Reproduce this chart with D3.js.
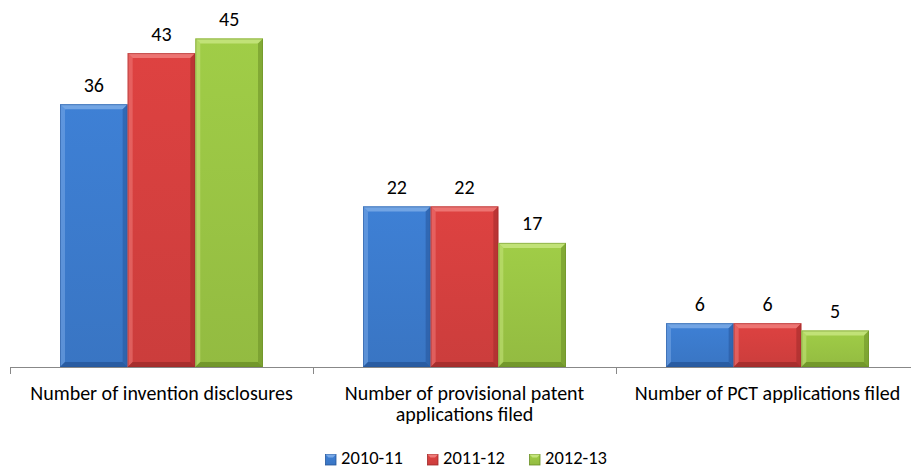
<!DOCTYPE html>
<html><head><meta charset="utf-8">
<script src="https://cdn.jsdelivr.net/npm/d3@7"></script>
<style>body{margin:0;background:#fff;}svg{display:block;font-family:Carlito,Calibri,"Open Sans",sans-serif;}</style>
</head><body>
<svg id="c" width="911" height="468"></svg>
<script>
const categories = [["Number of invention disclosures"], ["Number of provisional patent", "applications filed"], ["Number of PCT applications filed"]];
const series = ["2010-11", "2011-12", "2012-13"];
const values = [[36, 22, 6], [43, 22, 6], [45, 17, 5]];
const colors = ["#3b79ca", "#d23f3e", "#98c243"];
const lightC = ["#78a8e6", "#ee7a78", "#c4e47c"];
const darkC = ["#26569a", "#9e2a29", "#6a8e26"];

const svg = d3.select("#c");
const x0 = d3.scaleBand().domain(d3.range(categories.length)).range([10, 919]).paddingInner(0).paddingOuter(0);
const x1 = d3.scaleBand().domain(d3.range(series.length)).range([50, 253]).padding(0);
const y = d3.scaleLinear().domain([0, 50]).range([367, 2]);

const defs = svg.append("defs");
colors.forEach((c, i) => {
  const g = defs.append("linearGradient").attr("id", "g" + i).attr("x1", 0).attr("x2", 0).attr("y1", 0).attr("y2", 1);
  g.append("stop").attr("offset", 0).attr("stop-color", d3.color(c).brighter(0.15));
  g.append("stop").attr("offset", 1).attr("stop-color", d3.color(c).darker(0.1));
});

const bars = [];
values.forEach((arr, s) => arr.forEach((v, c) => bars.push({s, c, v})));
const bev = 5;
const gBars = svg.append("g");
bars.forEach(d => {
  const bx = x0(d.c) + x1(d.s), bw = x1.bandwidth();
  const by = y(d.v), bh = y(0) - y(d.v);
  const g = gBars.append("g");
  g.append("rect").attr("x", bx).attr("y", by).attr("width", bw).attr("height", bh).attr("fill", `url(#g${d.s})`);
  const b = Math.min(bev, bh / 2);
  g.append("polygon").attr("points", [[bx,by],[bx+bw,by],[bx+bw-b,by+b],[bx+b,by+b]].join(" ")).attr("fill", lightC[d.s]).attr("opacity", 0.9);
  g.append("polygon").attr("points", [[bx,by],[bx+b,by+b],[bx+b,by+bh-b],[bx,by+bh]].join(" ")).attr("fill", lightC[d.s]).attr("opacity", 0.55);
  g.append("polygon").attr("points", [[bx+bw,by],[bx+bw,by+bh],[bx+bw-b,by+bh-b],[bx+bw-b,by+b]].join(" ")).attr("fill", darkC[d.s]).attr("opacity", 0.55);
  g.append("polygon").attr("points", [[bx,by+bh],[bx+b,by+bh-b],[bx+bw-b,by+bh-b],[bx+bw,by+bh]].join(" ")).attr("fill", darkC[d.s]).attr("opacity", 0.8);
  g.append("rect").attr("x", bx+0.5).attr("y", by+0.5).attr("width", bw-1).attr("height", bh-1).attr("fill", "none").attr("stroke", darkC[d.s]).attr("stroke-opacity", 0.5).attr("stroke-width", 1);
  svg.append("text").attr("x", bx + bw / 2).attr("y", by - 12.5).attr("text-anchor", "middle").attr("font-size", 20).attr("fill", "#000").text(d.v);
});

// axis
svg.append("line").attr("x1", 10).attr("x2", 919).attr("y1", 367.5).attr("y2", 367.5).attr("stroke", "#888").attr("stroke-width", 1);
d3.range(categories.length + 1).forEach(i => {
  const tx = i < categories.length ? x0(i) : x0(categories.length - 1) + x0.bandwidth();
  svg.append("line").attr("x1", Math.round(tx) + 0.5).attr("x2", Math.round(tx) + 0.5).attr("y1", 367).attr("y2", 374).attr("stroke", "#888");
});
categories.forEach((lines, i) => {
  lines.forEach((l, k) => svg.append("text").attr("text-anchor", "middle").attr("font-size", 20).attr("fill", "#000")
    .attr("x", x0(i) + x0.bandwidth() / 2).attr("y", 400 + k * 21).text(l));
});

// legend
const legX = [325, 427, 529];
series.forEach((s, i) => {
  const lx = legX[i], ly = 454;
  svg.append("rect").attr("x", lx + 0.5).attr("y", ly + 0.5).attr("width", 10.5).attr("height", 10.5).attr("fill", `url(#g${i})`).attr("stroke", darkC[i]).attr("stroke-width", 0.8);
  svg.append("polygon").attr("points", [[lx+0.5,ly+0.5],[lx+11,ly+0.5],[lx+8,ly+3.5],[lx+3.5,ly+3.5]].join(" ")).attr("fill", lightC[i]);
  svg.append("text").attr("x", lx + 16).attr("y", 464).attr("font-size", 18.5).attr("fill", "#000").text(s);
});
</script>
</body></html>
